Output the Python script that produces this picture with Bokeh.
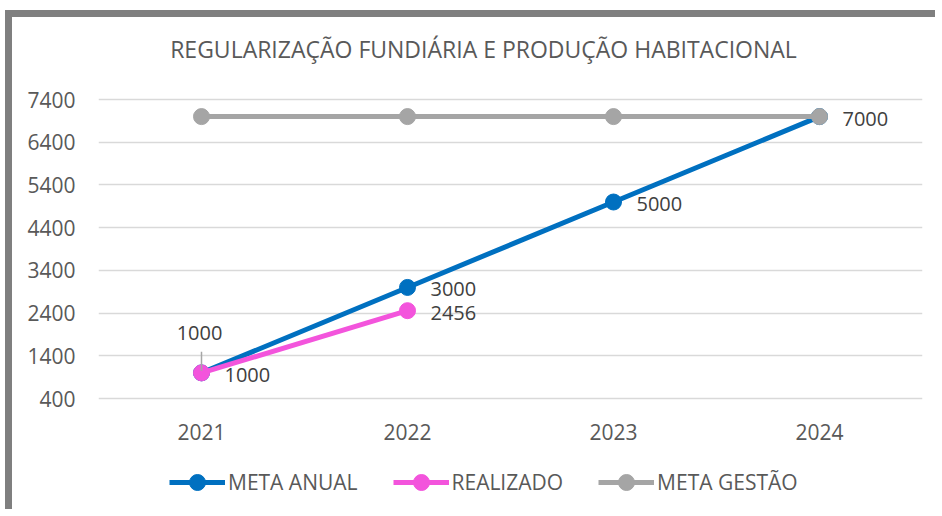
from bokeh.plotting import figure
from bokeh.models import (FactorRange, Range1d, FixedTicker, Legend, LegendItem, Label)
from bokeh.core.properties import value
from bokeh.embed import file_html
from bokeh.resources import INLINE

# ---- data ----
chart_title = "REGULARIZAÇÃO FUNDIÁRIA E PRODUÇÃO HABITACIONAL"
years = ["2021", "2022", "2023", "2024"]
meta_anual = [1000, 3000, 5000, 7000]
realizado_years = ["2021", "2022"]
realizado = [1000, 2456]
meta_gestao = [7000, 7000, 7000, 7000]
y_ticks = [400, 1400, 2400, 3400, 4400, 5400, 6400, 7400]
series_names = ["META ANUAL", "REALIZADO", "META GESTÃO"]

# ---- style / layout ----
FONT = "Open Sans"
BLUE = "#0070C0"
PINK = "#F354DC"
GRAY = "#A5A5A5"
TXT = "#595959"
LBL = "#404040"
W, H = 930, 499
FL, FR = 86, 20
GRID_TOP_PX, GRID_PX = 82, 299      # gridded area position inside the canvas
upp = (y_ticks[-1] - y_ticks[0]) / GRID_PX      # data units per pixel
y_end = y_ticks[-1] + GRID_TOP_PX * upp
y_start = y_ticks[0] - (H - GRID_TOP_PX - GRID_PX) * upp

p = figure(width=W, height=H, x_range=FactorRange(*years),
           y_range=Range1d(y_start, y_end), title_location=None,
           output_backend="svg", toolbar_location=None,
           min_border_left=FL, min_border_right=FR,
           min_border_top=0, min_border_bottom=0)
p.styles = {"border-left": "7px solid #7F7F7F", "border-top": "7px solid #7F7F7F",
            "margin-left": "5px", "margin-top": "10px"}
p.outline_line_color = None
p.background_fill_color = "white"
p.border_fill_color = "white"
p.xgrid.grid_line_color = None
p.ygrid.grid_line_color = "#D9D9D9"
p.ygrid.grid_line_width = 1.5
p.yaxis.ticker = FixedTicker(ticks=y_ticks)
p.ygrid.ticker = FixedTicker(ticks=y_ticks)
for ax in (p.xaxis[0], p.yaxis[0]):
    ax.axis_line_color = None
    ax.major_tick_line_color = None
    ax.minor_tick_line_color = None
    ax.major_tick_out = 0
    ax.major_tick_in = 0
    ax.minor_tick_out = 0
    ax.minor_tick_in = 0
    ax.major_label_text_font = FONT
    ax.major_label_text_font_size = "21px"
    ax.major_label_text_color = TXT
p.yaxis.major_label_standoff = 23
p.xaxis.major_label_standoff = 25
p.xaxis.fixed_location = y_ticks[0]

# ---- title (drawn inside the extended frame) ----
band_px = (W - FL - FR) / len(years)
title_x = (471 - FL) / band_px
title_y = y_end - 31 * upp
p.add_layout(Label(x=title_x, y=title_y, text=chart_title, text_align="center",
                   text_baseline="middle", text_font=FONT, text_font_size="23px",
                   text_color=TXT))

# ---- series ----
l_blue = p.line(years, meta_anual, line_width=5, color=BLUE)
s_blue = p.scatter(years, meta_anual, size=16, color=BLUE)
l_pink = p.line(realizado_years, realizado, line_width=5, color=PINK)
s_pink = p.scatter(realizado_years, realizado, size=16, color=PINK)
l_gray = p.line(years, meta_gestao, line_width=5, color=GRAY)
s_gray = p.scatter(years, meta_gestao, size=16, color=GRAY)

# ---- data labels ----
lab_kw = dict(text_font=value(FONT), text_font_size="20px", text_color=LBL,
              text_baseline="middle")
p.text(x=years, y=meta_anual, text=[str(v) for v in meta_anual],
       x_offset=23, y_offset=2, text_align="left", **lab_kw)
p.text(x=realizado_years[1:], y=realizado[1:], text=[str(v) for v in realizado[1:]],
       x_offset=23, y_offset=2, text_align="left", **lab_kw)
p.text(x=realizado_years[:1], y=realizado[:1], text=[str(v) for v in realizado[:1]],
       x_offset=-2, y_offset=-40, text_align="center", **lab_kw)
# leader line for the label above the first REALIZADO point
p.segment(x0=realizado_years[:1], y0=[realizado[0] + 2 * upp],
          x1=realizado_years[:1], y1=[realizado[0] + 21 * upp],
          line_color="#A6A6A6", line_width=1.5)

# ---- legend (inside the extended frame, below the category labels) ----
legend = Legend(items=[LegendItem(label=series_names[0], renderers=[l_blue, s_blue]),
                       LegendItem(label=series_names[1], renderers=[l_pink, s_pink]),
                       LegendItem(label=series_names[2], renderers=[l_gray, s_gray])],
                orientation="horizontal", location=(71, 14),
                glyph_width=56, glyph_height=40, label_height=20,
                label_standoff=3, spacing=35, padding=0, margin=0,
                label_text_font=FONT, label_text_font_size="21px",
                label_text_color=TXT, border_line_color=None,
                background_fill_alpha=0)
p.add_layout(legend, "center")

open("out.html", "w").write(file_html(p, INLINE))
